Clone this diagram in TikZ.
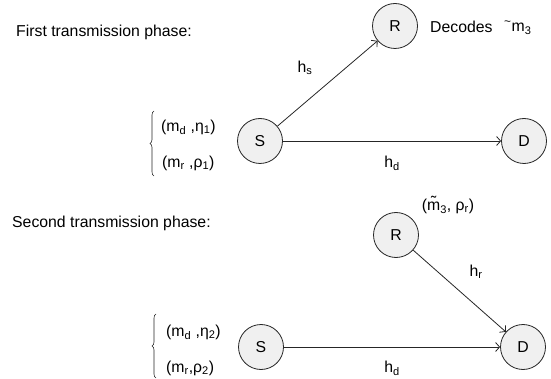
\documentclass[tikz,border=0pt]{standalone}
\usepackage{fontspec}
\setmainfont{Liberation Sans}
\usetikzlibrary{arrows.meta,decorations.pathreplacing}
\begin{document}
\begin{tikzpicture}[x=1pt,y=-1pt,
  nd/.style={circle,draw=black!85,fill=black!6,line width=0.8pt,minimum size=45pt,inner sep=0pt,font=\fontsize{15.8}{19}\selectfont},
  lbl/.style={font=\fontsize{15.8}{19}\selectfont,inner sep=0pt},
  con/.style={draw=black!85,line width=0.8pt,-{Straight Barb[length=4pt,width=9pt]}},
  brc/.style={draw=black!85,line width=0.6pt,decorate,decoration={brace,amplitude=4pt}}]
\useasboundingbox (0,0) rectangle (551,379);
% first phase
\node[lbl,anchor=west] (t1) at (16,32) {First transmission phase:};
\node[nd] (R1) at (395,26) {R};
\node[nd] (S1) at (260,141) {S};
\node[nd] (D1) at (524,141) {D};
\node[lbl,anchor=west] (dec) at (430,27) {Decodes};
\node[lbl,anchor=west] (m3a) at (504,28) {\raisebox{6pt}{\scalebox{0.75}{\textasciitilde}}\kern0.5pt m\textsubscript{3}};
\node[lbl] (hs) at (305,68) {h\textsubscript{s}};
\node[lbl] (hd1) at (392,163) {h\textsubscript{d}};
\node[lbl,anchor=west] (a1) at (161,127) {(m\textsubscript{d} ,η\textsubscript{1})};
\node[lbl,anchor=west] (b1) at (162,163) {(m\textsubscript{r} ,ρ\textsubscript{1})};
\coordinate (br1a) at (154,176);
\coordinate (br1b) at (154,111);
\draw[brc] (br1a) -- (br1b);
\draw[con] (S1) -- (R1);
\draw[con] (S1) -- (D1);
% second phase
\node[lbl,anchor=west] (t2) at (12,223) {Second transmission phase:};
\node[nd] (R2) at (396,235) {R};
\node[nd] (S2) at (261,347) {S};
\node[nd] (D2) at (523,347) {D};
\node[lbl] (m3b) at (448,205) {(\~{m}\textsubscript{3}, ρ\textsubscript{r})};
\node[lbl] (hr) at (476,272) {h\textsubscript{r}};
\node[lbl] (hd2) at (392,368) {h\textsubscript{d}};
\node[lbl,anchor=west] (a2) at (166,332) {(m\textsubscript{d} ,η\textsubscript{2})};
\node[lbl,anchor=west] (b2) at (166,368) {(m\textsubscript{r},ρ\textsubscript{2})};
\coordinate (br2a) at (156,378);
\coordinate (br2b) at (156,314);
\draw[brc] (br2a) -- (br2b);
\draw[con] (R2) -- (D2);
\draw[con] (S2) -- (D2);
\end{tikzpicture}
\end{document}
